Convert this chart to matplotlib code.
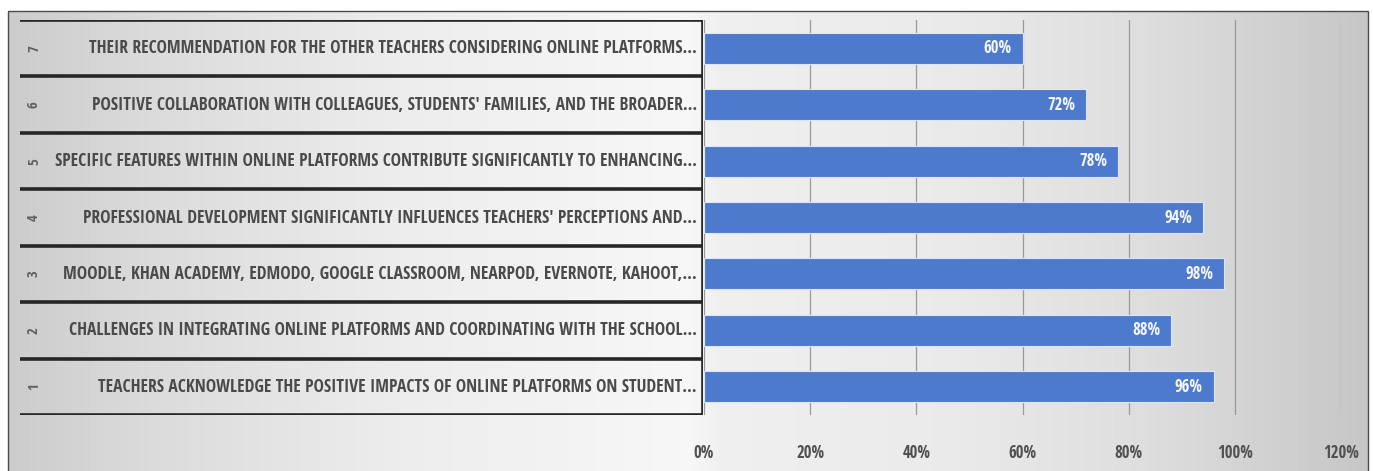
import matplotlib
matplotlib.use("Agg")
import matplotlib.pyplot as plt
import numpy as np
from matplotlib import font_manager
from matplotlib.font_manager import FontProperties
from matplotlib.patches import Rectangle

item_numbers = ["1", "2", "3", "4", "5", "6", "7"]
item_labels = [
    "TEACHERS ACKNOWLEDGE THE POSITIVE IMPACTS OF ONLINE PLATFORMS ON STUDENT…",
    "CHALLENGES IN INTEGRATING ONLINE PLATFORMS AND COORDINATING WITH THE SCHOOL…",
    "MOODLE, KHAN ACADEMY, EDMODO, GOOGLE CLASSROOM, NEARPOD, EVERNOTE, KAHOOT,…",
    "PROFESSIONAL DEVELOPMENT SIGNIFICANTLY INFLUENCES TEACHERS' PERCEPTIONS AND…",
    "SPECIFIC FEATURES WITHIN ONLINE PLATFORMS CONTRIBUTE SIGNIFICANTLY TO ENHANCING…",
    "POSITIVE COLLABORATION WITH COLLEAGUES, STUDENTS' FAMILIES, AND THE BROADER…",
    "THEIR RECOMMENDATION FOR THE OTHER TEACHERS CONSIDERING ONLINE PLATFORMS…",
]
agreement = [0.96, 0.88, 0.98, 0.94, 0.78, 0.72, 0.60]
x_ticks = [0.0, 0.2, 0.4, 0.6, 0.8, 1.0, 1.2]

W, H = 1373, 471
fig = plt.figure(figsize=(W / 100, H / 100), dpi=100, facecolor="white")
renderer = fig.canvas.get_renderer()

# pick the narrowest installed sans font for the long, condensed-looking labels
candidates = []
names = {f.name for f in font_manager.fontManager.ttflist}
for fam in ["Liberation Sans Narrow", "Roboto Condensed", "Open Sans Condensed",
            "Liberation Sans", "Roboto", "Lato", "Noto Sans", "DejaVu Sans"]:
    if fam in names:
        candidates.append(FontProperties(family=fam, weight=300, size=13))
cond = FontProperties(family="DejaVu Sans", stretch="condensed", size=13)
if "Condensed" in font_manager.findfont(cond):
    candidates.append(cond)


def text_width(prop, s):
    w, _, _ = renderer.get_text_width_height_descent(s, prop, ismath=False)
    return w


label_font = min(candidates, key=lambda p: max(text_width(p, s) for s in item_labels))
label_width = max(text_width(label_font, s) for s in item_labels)
label_font.set_size(13 * 638 / label_width)
family = label_font.get_family()[0]
plt.rcParams["font.family"] = [family, "DejaVu Sans"]


def fx(px):
    return px / W


def fy(py):
    return 1 - py / H


# background with horizontal grey gradient and thin frame
bg = fig.add_axes([0, 0, 1, 1], zorder=0)
bg.set_xlim(0, W)
bg.set_ylim(H, 0)
bg.axis("off")
xs = np.linspace(8, 1368, 600)
shade = np.interp(xs, [8, 150, 400, 690, 720, 950, 1150, 1368],
                  [0.80, 0.86, 0.93, 0.97, 0.94, 0.92, 0.87, 0.78])
grad = np.dstack([shade, shade, shade])[0][None, :, :].repeat(2, axis=0)
bg.imshow(grad, extent=(8, 1368, H, 11), aspect="auto", interpolation="bilinear")
bg.add_patch(Rectangle((8, 11), 1360, H, fill=False, edgecolor="#4a4a4a", linewidth=1))

n = len(item_labels)
ypos = np.arange(n)

# label table on the left
tab = fig.add_axes([fx(20), fy(415), fx(703) - fx(20), fy(20) - fy(415)], zorder=2)
tab.set_xlim(0, 1)
tab.set_ylim(-0.5, n - 0.5)
tab.axis("off")
for y in np.arange(n + 1) - 0.5:
    tab.plot([0, 1], [y, y], color="#262626", linewidth=2.6, solid_capstyle="butt")
tab.plot([1, 1], [-0.5, n - 0.5], color="#262626", linewidth=2.6, solid_capstyle="butt")
for i in ypos:
    tab.text(14 / 683, i, item_numbers[i], rotation=90, ha="center", va="center",
             fontsize=10.5, fontweight=300, color="#606060")
    tab.text(677 / 683, i, item_labels[i], ha="right", va="center",
             fontproperties=label_font, color="#4a4a4a")

# bar chart
ax = fig.add_axes([fx(704), fy(415), fx(1341) - fx(704), fy(20) - fy(415)], zorder=1)
ax.patch.set_visible(False)
ax.barh(ypos, agreement, height=0.55, color="#4e7acd", edgecolor="#dbe5f5", linewidth=0.8)
for i, v in zip(ypos, agreement):
    ax.text(v - 0.02, i, f"{v:.0%}", ha="right", va="center", color="#f4f7fc",
            fontsize=12, fontweight="bold")
ax.set_xlim(0, 1.2)
ax.set_ylim(-0.5, n - 0.5)
ax.set_xticks(x_ticks)
ax.set_xticklabels([f"{t:.0%}" for t in x_ticks], fontweight=300)
ax.set_yticks([])
ax.grid(axis="x", color="#9a9a9a", linewidth=0.9)
ax.set_axisbelow(True)
for s in ax.spines.values():
    s.set_visible(False)
ax.tick_params(axis="x", length=0, pad=21, labelsize=12, labelcolor="#505050")

fig.savefig("out.png", dpi=100)
